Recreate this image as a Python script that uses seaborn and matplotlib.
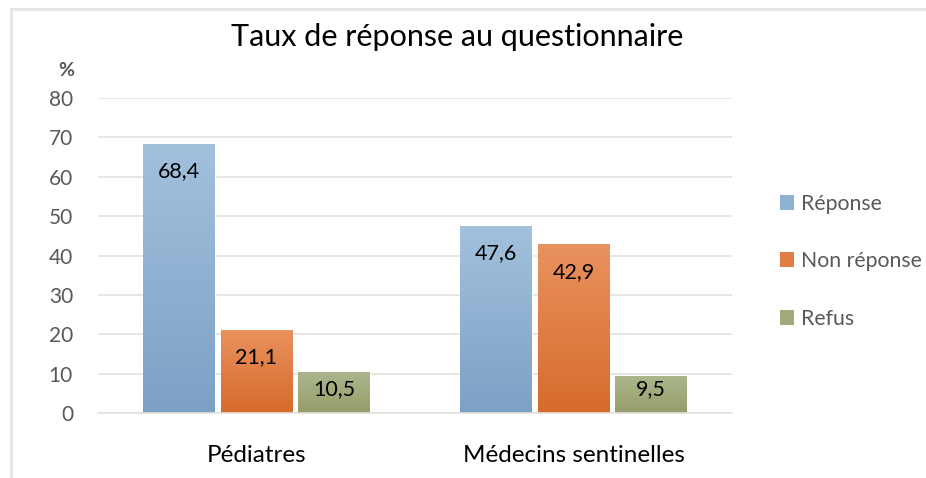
import matplotlib
matplotlib.use("Agg")
import matplotlib.pyplot as plt
import matplotlib.patches as mpatches
import numpy as np
import pandas as pd
import seaborn as sns
from matplotlib.colors import LinearSegmentedColormap

# ---- data ----
categories = ["Pédiatres", "Médecins sentinelles"]
series = ["Réponse", "Non réponse", "Refus"]
reponse = [68.4, 47.6]
non_reponse = [21.1, 42.9]
refus = [10.5, 9.5]
yticks = [0, 10, 20, 30, 40, 50, 60, 70, 80]
title = "Taux de réponse au questionnaire"

df = pd.DataFrame({
    "cat": categories * 3,
    "serie": [series[0]] * 2 + [series[1]] * 2 + [series[2]] * 2,
    "val": reponse + non_reponse + refus,
})

top_colors = ["#a3c1dd", "#e9925f", "#abb68d"]
bot_colors = ["#7ca1c5", "#d66b2b", "#959e69"]
mid_colors = ["#8fb1d2", "#e07f45", "#a0aa7b"]

sns.set_theme(style="white")
plt.rcParams["font.family"] = ["Lato", "DejaVu Sans"]

fig = plt.figure(figsize=(9.26, 4.78), dpi=100)
ax = fig.add_axes([98 / 926, 1 - 413 / 478, (732 - 98) / 926, (413 - 98) / 478])

sns.barplot(data=df, x="cat", y="val", hue="serie", hue_order=series,
            order=categories, palette=mid_colors, width=0.735, gap=0.08,
            ax=ax, legend=False, saturation=1)

ax.set_ylim(0, 80)
ax.set_xlim(-0.5, 1.5)
ax.set_yticks(yticks)
ax.set_yticklabels([str(t) for t in yticks], fontsize=15, color="#595959")
ax.tick_params(axis="y", length=0, pad=18)
ax.tick_params(axis="x", length=0, pad=23, labelsize=17.5, labelcolor="#000000")
ax.set_xlabel("")
ax.set_ylabel("")
for s in ["top", "right", "left"]:
    ax.spines[s].set_visible(False)
ax.spines["bottom"].set_color("#e4e0dd")
ax.spines["bottom"].set_linewidth(1.2)
ax.yaxis.grid(True, color="#e4e0dd", linewidth=1.2)
ax.set_axisbelow(True)

# gradients on bars + labels
for i, cont in enumerate(ax.containers):
    cmap = LinearSegmentedColormap.from_list("g", [bot_colors[i], top_colors[i]])
    for bar in cont:
        x0, y0 = bar.get_x(), bar.get_y()
        w, h = bar.get_width(), bar.get_height()
        grad = np.linspace(0, 1, 256).reshape(-1, 1)
        im = ax.imshow(grad, cmap=cmap, origin="lower", aspect="auto",
                       extent=[x0, x0 + w, y0, y0 + h], zorder=bar.get_zorder() + 0.1)
        im.set_clip_path(bar)
        ax.text(x0 + w / 2, max(h - 7.0, 6.1), f"{h:.1f}".replace(".", ","),
                ha="center", va="center", fontsize=15.5, color="#000000", zorder=5)
ax.set_xlim(-0.5, 1.5)
ax.set_ylim(0, 80)

# title and % label
fig.text(457 / 926, 1 - 37 / 478, title, ha="center", va="center", fontsize=22, color="#000000")
fig.text(66 / 926, 1 - 71 / 478, "%", ha="center", va="center", fontsize=14,
         fontweight="bold", color="#595959")

# legend
handles = [mpatches.Patch(facecolor=c, edgecolor="none") for c in mid_colors]
leg = fig.legend(handles, series, loc="upper left", bbox_to_anchor=(771 / 926, 1 - 185 / 478),
                 frameon=False, fontsize=15.3, handlelength=0.7, handleheight=0.7,
                 handletextpad=0.3, labelspacing=1.78, borderaxespad=0)
for t in leg.get_texts():
    t.set_color("#595959")

# chart border (cropped)
fig.patches.append(mpatches.Rectangle((11 / 926, -0.1), 1.2, 1 - 9 / 478 + 0.1,
                                      transform=fig.transFigure, fill=False,
                                      edgecolor="#e8e5e2", linewidth=2.2))

fig.savefig("out.png", dpi=100)
